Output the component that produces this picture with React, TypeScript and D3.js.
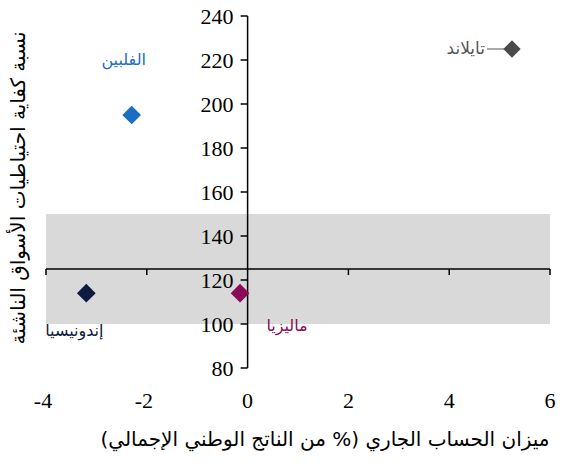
import React, { useEffect, useRef } from 'react';
import * as d3 from 'd3';

const countries = ['الفلبين', 'إندونيسيا', 'ماليزيا'];
const currentAccount = [-2.3, -3.2, -0.15];
const reserveRatio = [195, 114, 114];
const colors = ['#1a6fc4', '#0f1a40', '#8a0a55'];
const labelPos = [
  { dx: -8, dy: -50 },
  { dx: -12, dy: 43 },
  { dx: 47, dy: 38 },
];

const legendName = 'تايلاند';
const legendColor = '#4a4a4a';

const xTicks = [-4, -2, 0, 2, 4, 6];
const yTicks = [80, 100, 120, 140, 160, 180, 200, 220, 240];
const bandRange = [100, 150];
const crossY = 125;

const xTitle = 'ميزان الحساب الجاري (% من الناتج الوطني الإجمالي)';
const yTitle = 'نسبة كفاية احتياطيات الأسواق الناشئة';

export default function App() {
  const svgRef = useRef<SVGSVGElement>(null);

  useEffect(() => {
    if (!svgRef.current) return;
    const svg = d3.select(svgRef.current);
    svg.selectAll('*').remove();

    const serif = "'Liberation Serif', 'Times New Roman', 'DejaVu Serif', serif";
    const sans = 'DejaVu Sans';

    const x = d3.scaleLinear().domain([-4, 6]).range([46, 550]);
    const y = d3.scaleLinear().domain([80, 240]).range([368, 16]);

    // grey band
    svg.append('rect')
      .attr('x', x(-4))
      .attr('y', y(bandRange[1]))
      .attr('width', x(6) - x(-4))
      .attr('height', y(bandRange[0]) - y(bandRange[1]))
      .attr('fill', '#d9d9d9');

    // horizontal axis (crosses at 125)
    svg.append('line')
      .attr('x1', x(-4)).attr('x2', x(6))
      .attr('y1', y(crossY)).attr('y2', y(crossY))
      .attr('stroke', '#000').attr('stroke-width', 1.5);
    xTicks.filter(t => t !== 0).forEach(t => {
      svg.append('line')
        .attr('x1', x(t)).attr('x2', x(t))
        .attr('y1', y(crossY)).attr('y2', y(crossY) + 6)
        .attr('stroke', '#000').attr('stroke-width', 1.5);
    });
    xTicks.forEach(t => {
      svg.append('text')
        .attr('x', x(t) - (t < 0 ? 3 : 0))
        .attr('y', 408)
        .attr('text-anchor', 'middle')
        .style('font-family', serif)
        .style('font-size', '22px')
        .attr('fill', '#000')
        .text(String(t));
    });

    // vertical axis
    svg.append('line')
      .attr('x1', x(0)).attr('x2', x(0))
      .attr('y1', y(240)).attr('y2', y(80))
      .attr('stroke', '#000').attr('stroke-width', 1.5);
    yTicks.forEach(t => {
      svg.append('line')
        .attr('x1', x(0) - 7).attr('x2', x(0))
        .attr('y1', y(t)).attr('y2', y(t))
        .attr('stroke', '#000').attr('stroke-width', 1.5);
      svg.append('text')
        .attr('x', x(0) - 14)
        .attr('y', y(t) + 8)
        .attr('text-anchor', 'end')
        .style('font-family', serif)
        .style('font-size', '22px')
        .attr('fill', '#000')
        .text(String(t));
    });

    // points
    const diamond = d3.symbol().type(d3.symbolSquare).size(175);
    countries.forEach((name, i) => {
      const px = x(currentAccount[i]);
      const py = y(reserveRatio[i]);
      svg.append('path')
        .attr('d', diamond() as string)
        .attr('transform', `translate(${px},${py}) rotate(45)`)
        .attr('fill', colors[i]);
      svg.append('text')
        .attr('x', px + labelPos[i].dx)
        .attr('y', py + labelPos[i].dy)
        .attr('text-anchor', 'middle')
        .attr('font-family', sans)
        .attr('font-size', 16)
        .attr('fill', colors[i])
        .text(name);
    });

    // legend (Thailand)
    const lg = svg.append('g').attr('transform', 'translate(512,49)');
    lg.append('line')
      .attr('x1', -25).attr('x2', 0)
      .attr('y1', 0).attr('y2', 0)
      .attr('stroke', '#aaa').attr('stroke-width', 2);
    lg.append('path')
      .attr('d', d3.symbol().type(d3.symbolSquare).size(150)() as string)
      .attr('transform', 'rotate(45)')
      .attr('fill', legendColor);
    lg.append('text')
      .attr('x', -27).attr('y', 5)
      .attr('text-anchor', 'end')
      .attr('font-family', sans)
      .attr('font-size', 17)
      .attr('fill', '#555')
      .text(legendName);

    // x title
    svg.append('text')
      .attr('x', 325)
      .attr('y', 446)
      .attr('text-anchor', 'middle')
      .attr('font-family', sans)
      .attr('font-size', 20)
      .attr('fill', '#000')
      .text(xTitle);

    // y title
    svg.append('text')
      .attr('transform', 'translate(25,188) rotate(-90)')
      .attr('text-anchor', 'middle')
      .attr('font-family', sans)
      .attr('font-size', 20)
      .attr('fill', '#000')
      .text(yTitle);
  }, []);

  return (
    <svg
      ref={svgRef}
      width={570}
      height={463}
      style={{ position: 'absolute', left: 0, top: 0, background: '#fff' }}
    />
  );
}
